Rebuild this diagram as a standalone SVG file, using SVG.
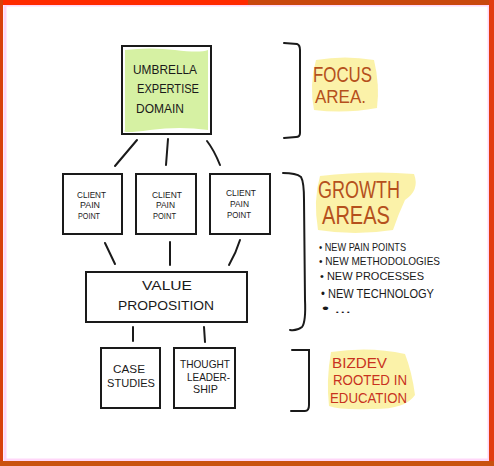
<svg xmlns="http://www.w3.org/2000/svg" width="494" height="466" viewBox="0 0 494 466">
<style>
.box{fill:#fff;stroke:#1a1a1a;stroke-width:2}
.ln{fill:none;stroke:#1a1a1a;stroke-width:2;stroke-linecap:round}
.t{font-family:"Liberation Sans","DejaVu Sans",sans-serif;fill:#1a1a1a;text-anchor:start}
.hl{fill:#fbf1a0;opacity:0.9}
.o{font-family:"Liberation Sans","DejaVu Sans",sans-serif;fill:#b5501c}
.r{font-family:"Liberation Sans","DejaVu Sans",sans-serif;fill:#c8321e}
</style>
<rect x="0" y="0" width="494" height="466" fill="#ffffff"/>
<!-- frame -->
<rect x="5" y="5" width="484" height="455" fill="none" stroke="#ffd6f8" stroke-width="3"/>
<rect x="0" y="0" width="248" height="5" fill="#ff2a00"/>
<rect x="248" y="0" width="246" height="5" fill="#c9480e"/>
<rect x="0" y="0" width="3" height="466" fill="#d8400c"/>
<rect x="489" y="0" width="5" height="466" fill="#e23c10"/>
<rect x="0" y="461" width="494" height="5" fill="#c9520f"/>

<g id="connectors">
<path class="ln" d="M137,140 L115,166"/>
<path class="ln" d="M168,139 L166,165"/>
<path class="ln" d="M207,141 Q214,150 220,165"/>
<path class="ln" d="M105,243 L115,264"/>
<path class="ln" d="M170,242 L170,265"/>
<path class="ln" d="M240,240 Q236,253 229,265"/>
<path class="ln" d="M133,327 L133,341"/>
<path class="ln" d="M204,327 L205,342"/>
</g>

<g id="umbrella">
<rect class="box" x="122" y="46" width="89" height="88"/>
<path d="M125,50 Q150,47 175,50 T208,50 L208,130 Q180,126 150,130 T125,130 Z" fill="#d6f1a3"/>
<text class="t" x="133" y="74" font-size="13" textLength="64" lengthAdjust="spacingAndGlyphs">UMBRELLA</text>
<text class="t" x="137" y="93" font-size="13" textLength="62" lengthAdjust="spacingAndGlyphs">EXPERTISE</text>
<text class="t" x="136" y="113" font-size="13" textLength="48" lengthAdjust="spacingAndGlyphs">DOMAIN</text>
</g>

<g id="focus-bracket">
<path class="ln" d="M284,43 L297,44 Q300,45 300,50 L300,133 Q300,137 296,137 L284,138"/>
</g>
<g id="focus-label">
<path class="hl" d="M316,60 Q345,55 374,60 Q380,85 377,108 Q345,114 314,110 Q309,85 316,60 Z"/>
<text class="o" x="313" y="82" font-size="22" textLength="59" lengthAdjust="spacingAndGlyphs">FOCUS</text>
<text class="o" x="315" y="103" font-size="19" textLength="51" lengthAdjust="spacingAndGlyphs">AREA.</text>
</g>

<g id="pain1">
<rect class="box" x="63" y="174" width="59" height="60"/>
<text class="t" x="77" y="198" font-size="9.5" textLength="29" lengthAdjust="spacingAndGlyphs">CLIENT</text>
<text class="t" x="80" y="208" font-size="9.5" textLength="20" lengthAdjust="spacingAndGlyphs">PAIN</text>
<text class="t" x="78" y="219" font-size="9.5" textLength="22" lengthAdjust="spacingAndGlyphs">POINT</text>
</g>
<g id="pain2">
<rect class="box" x="136" y="174" width="60" height="60"/>
<text class="t" x="152" y="198" font-size="9.5" textLength="30" lengthAdjust="spacingAndGlyphs">CLIENT</text>
<text class="t" x="156" y="208" font-size="9.5" textLength="19" lengthAdjust="spacingAndGlyphs">PAIN</text>
<text class="t" x="153" y="219" font-size="9.5" textLength="23" lengthAdjust="spacingAndGlyphs">POINT</text>
</g>
<g id="pain3">
<rect class="box" x="210" y="174" width="60" height="60"/>
<text class="t" x="226" y="196" font-size="9.5" textLength="30" lengthAdjust="spacingAndGlyphs">CLIENT</text>
<text class="t" x="230" y="207" font-size="9.5" textLength="19" lengthAdjust="spacingAndGlyphs">PAIN</text>
<text class="t" x="227" y="218" font-size="9.5" textLength="24" lengthAdjust="spacingAndGlyphs">POINT</text>
</g>

<g id="value">
<rect class="box" x="86" y="272" width="161" height="50"/>
<text class="t" x="142" y="290" font-size="13" textLength="50" lengthAdjust="spacingAndGlyphs">VALUE</text>
<text class="t" x="118" y="310" font-size="13" textLength="96" lengthAdjust="spacingAndGlyphs">PROPOSITION</text>
</g>

<g id="growth-bracket">
<path class="ln" d="M283,173 Q296,173 301,177 Q304,182 304,200 L305,300 Q306,322 302,327 Q297,331 290,330"/>
</g>
<g id="growth-label">
<path class="hl" d="M320,176 Q370,170 414,174 Q420,190 405,200 Q398,215 393,230 Q355,236 318,230 Q313,200 320,176 Z"/>
<text class="o" x="318" y="198" font-size="23" textLength="82" lengthAdjust="spacingAndGlyphs">GROWTH</text>
<text class="o" x="322" y="224" font-size="25" textLength="68" lengthAdjust="spacingAndGlyphs">AREAS</text>
</g>
<g id="growth-list">
<text class="t" x="319" y="251" font-size="11.5" textLength="87" lengthAdjust="spacingAndGlyphs">• NEW PAIN POINTS</text>
<text class="t" x="319" y="265" font-size="11.5" textLength="121" lengthAdjust="spacingAndGlyphs">• NEW METHODOLOGIES</text>
<text class="t" x="320" y="280" font-size="11.5" textLength="104" lengthAdjust="spacingAndGlyphs">• NEW PROCESSES</text>
<text class="t" x="321" y="298" font-size="12" textLength="113" lengthAdjust="spacingAndGlyphs">• NEW TECHNOLOGY</text>
<text class="t" x="322" y="313" font-size="12" textLength="29" lengthAdjust="spacingAndGlyphs">• ...</text>
</g>

<g id="case">
<rect class="box" x="101" y="348" width="59" height="60"/>
<text class="t" x="113" y="373" font-size="11" textLength="32" lengthAdjust="spacingAndGlyphs">CASE</text>
<text class="t" x="107" y="387" font-size="11" textLength="48" lengthAdjust="spacingAndGlyphs">STUDIES</text>
</g>
<g id="thought">
<rect class="box" x="174" y="348" width="61" height="60"/>
<text class="t" x="180" y="368" font-size="10.5" textLength="50" lengthAdjust="spacingAndGlyphs">THOUGHT</text>
<text class="t" x="187" y="381" font-size="10.5" textLength="43" lengthAdjust="spacingAndGlyphs">LEADER-</text>
<text class="t" x="193" y="393" font-size="10.5" textLength="25" lengthAdjust="spacingAndGlyphs">SHIP</text>
</g>

<g id="bizdev-bracket">
<path class="ln" d="M292,350 L309,350 L309,405 Q309,411 305,411 L291,411"/>
</g>
<g id="bizdev-label">
<path class="hl" d="M331,352 Q370,346 405,354 Q412,372 415,395 Q405,410 370,409 Q340,410 329,406 Q326,380 331,352 Z"/>
<text class="r" x="332" y="368" font-size="15" textLength="55" lengthAdjust="spacingAndGlyphs">BIZDEV</text>
<text class="r" x="333" y="385" font-size="14" textLength="74" lengthAdjust="spacingAndGlyphs">ROOTED IN</text>
<text class="r" x="330" y="403" font-size="14" textLength="77" lengthAdjust="spacingAndGlyphs">EDUCATION</text>
</g>
</svg>
